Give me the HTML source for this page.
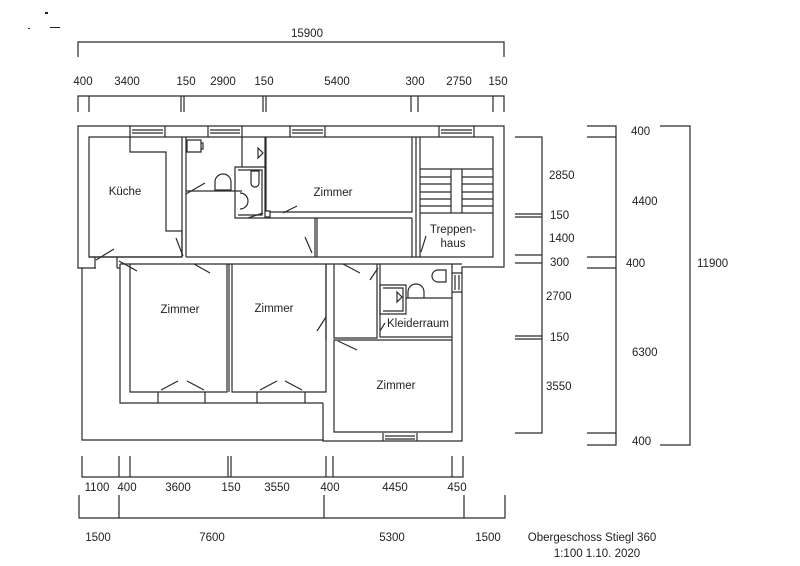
<!DOCTYPE html>
<html><head><meta charset="utf-8"><style>
html,body{margin:0;padding:0;background:#fff;}
svg{display:block;}
text{font-family:"Liberation Sans",Arial,sans-serif;font-size:11.5px;fill:#222;}
</style></head><body>
<svg width="800" height="566" viewBox="0 0 800 566" xmlns="http://www.w3.org/2000/svg">
<g stroke="#2a2a2a" stroke-width="1.2" fill="none">
<path d="M78 57V42H504V57"/>
<path d="M78 112V96H504V112 M89 96V112 M181 96V112 M184 96V112 M263 96V112 M266 96V112 M411 96V112 M418 96V112 M493 96V112"/>
<path d="M515 137H542V433H515 M515 214H542 M515 217H542 M515 255H542 M515 263H542 M515 336H542 M515 339H542"/>
<path d="M587 126H616V445H587 M587 137H616 M587 257H616 M587 268H616 M587 433H616"/>
<path d="M660 126H690V445H660"/>
<path d="M82 456V477H463V456 M119 456V477 M130 456V477 M228 456V477 M231 456V477 M326 456V477 M333 456V477 M452 456V477"/>
<path d="M79 495V518H505V495 M119 495V518 M324 495V518 M464 495V518"/>

<path d="M78 126H504V267H462V441H323V440H82V268H78Z"/>
<path d="M89 137H130V152H166V231H182V257H89Z"/>
<path d="M182 137V257 M186 137V257 M130 137H493V257H186"/>
<path d="M89 257H182"/>
<path d="M186 191H242 M242 137V167 M265 137V218 M235 167H265V218H235Z M238 170H262V215H238"/>
<path d="M266 137V211H270V217H265 M270 212H412V137 M265 218H412 M317 218V257 M412 218V257 M315 218V257 M416 137V257 M420 137V257"/>
<path d="M420 169H493 M420 177H451 M462 177H493 M420 184H451 M462 184H493 M420 192H451 M462 192H493 M420 199H451 M462 199H493 M420 206H451 M462 206H493 M420 213H493 M451 169V213 M462 169V213"/>
<path d="M82 268H96 M117 268H120 M120 264V403H323 M120 264H462 M323 403V441"/>
<path d="M130 264V392H227V264 M232 264V392H326V264 M229 264V392"/>
<path d="M334 264V338H377V264 M334 340H452V432H334Z M326 264V340 M380 264V337H452 M377 264V338 M452 264V340"/>
<path d="M380 285H406V314H380Z M383 288H403V311H383 M406 298H452"/>
<path d="M130 126V137 M165 126V137 M132 130H163 M132 133H163 M208 126V137 M242 126V137 M210 130H240 M210 133H240 M290 126V137 M325 126V137 M292 130H323 M292 133H323 M439 126V137 M474 126V137 M441 130H472 M441 133H472"/>
<path d="M383 433V441 M417 433V441 M385 436H415 M385 439H415"/>
<path d="M452 273H462 M452 292H462 M455 275V290 M459 275V290"/>
<path d="M95 257V268 M117 257V268 M158 392V403 M205 392V403 M257 392V403 M305 392V403"/>
<path d="M96 260L114 249 M186 194L205 183 M248 218L263 213 M283 213L297 206 M176 238L183 256 M305 237L312 253 M421 252L426 236 M119 261L137 271 M194 264L210 273 M343 264L360 273 M370 280L378 268 M317 331L326 317 M338 341L357 350 M380 331L385 323 M161 390L178 381 M187 381L204 390 M260 390L277 381 M285 381L302 390"/>
<path d="M187 140H201V152H187Z M201 143H203V149H201 M215 190V182A8 8 0 0 1 231 182V190Z M251 171H259V183A4 4 0 0 1 251 183Z M240 193A8 8 0 0 1 240 209 M258 148L263 153L258 158Z M408 298V292A8 8 0 0 1 424 292V298 M438 270H446V282H438A6 6 0 0 1 438 270Z M397 292L402 297L397 302Z"/>
</g>
<g>
<text x="307" y="37" text-anchor="middle">15900</text>
<text x="83" y="85" text-anchor="middle">400</text>
<text x="127" y="85" text-anchor="middle">3400</text>
<text x="186" y="85" text-anchor="middle">150</text>
<text x="223" y="85" text-anchor="middle">2900</text>
<text x="264" y="85" text-anchor="middle">150</text>
<text x="337" y="85" text-anchor="middle">5400</text>
<text x="415" y="85" text-anchor="middle">300</text>
<text x="459" y="85" text-anchor="middle">2750</text>
<text x="498" y="85" text-anchor="middle">150</text>

<text x="549" y="179">2850</text>
<text x="550" y="219">150</text>
<text x="549" y="242">1400</text>
<text x="550" y="266">300</text>
<text x="546" y="300">2700</text>
<text x="550" y="341">150</text>
<text x="546" y="390">3550</text>
<text x="631" y="135">400</text>
<text x="632" y="205">4400</text>
<text x="626" y="267">400</text>
<text x="632" y="356">6300</text>
<text x="632" y="445">400</text>
<text x="697" y="267">11900</text>

<text x="97" y="491" text-anchor="middle">1100</text>
<text x="127" y="491" text-anchor="middle">400</text>
<text x="178" y="491" text-anchor="middle">3600</text>
<text x="231" y="491" text-anchor="middle">150</text>
<text x="277" y="491" text-anchor="middle">3550</text>
<text x="330" y="491" text-anchor="middle">400</text>
<text x="395" y="491" text-anchor="middle">4450</text>
<text x="457" y="491" text-anchor="middle">450</text>
<text x="98" y="541" text-anchor="middle">1500</text>
<text x="212" y="541" text-anchor="middle">7600</text>
<text x="392" y="541" text-anchor="middle">5300</text>
<text x="488" y="541" text-anchor="middle">1500</text>
<text x="592" y="541" text-anchor="middle">Obergeschoss  Stiegl 360</text>
<text x="597" y="557" text-anchor="middle">1:100  1.10. 2020</text>

<text x="125" y="195" text-anchor="middle">Küche</text>
<text x="333" y="196" text-anchor="middle">Zimmer</text>
<text x="453" y="233" text-anchor="middle">Treppen-</text>
<text x="453" y="247" text-anchor="middle">haus</text>
<text x="180" y="313" text-anchor="middle">Zimmer</text>
<text x="274" y="312" text-anchor="middle">Zimmer</text>
<text x="418" y="327" text-anchor="middle">Kleiderraum</text>
<text x="396" y="389" text-anchor="middle">Zimmer</text>
</g>
<g fill="#222"><rect x="45" y="12" width="3" height="2"/><rect x="50" y="27" width="10" height="1"/><rect x="28" y="28" width="2" height="1"/></g>
</svg>
</body></html>
